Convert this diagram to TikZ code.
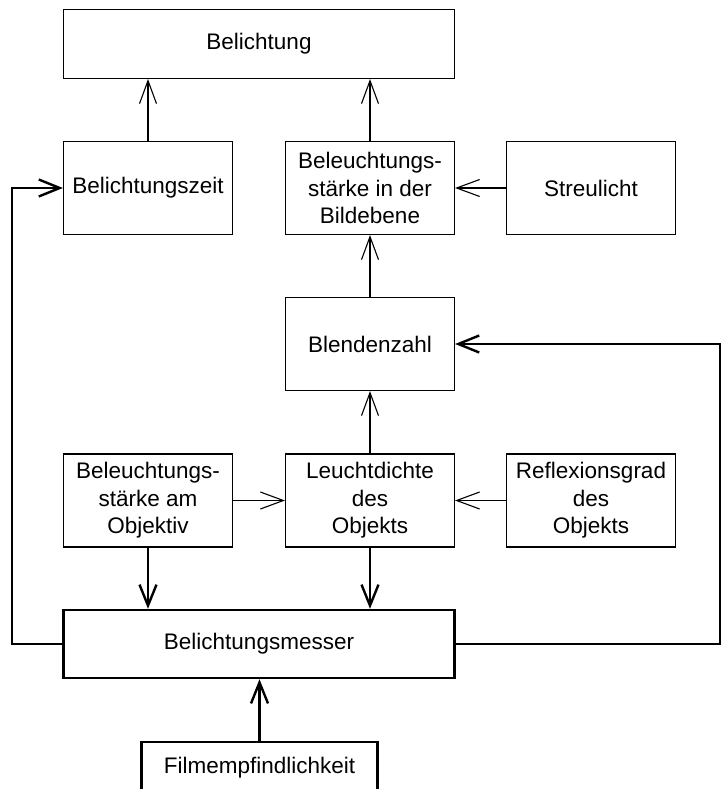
\documentclass[tikz,border=0pt]{standalone}
\usepackage{fontspec}
\setmainfont{Liberation Sans}
\usetikzlibrary{arrows.meta}

\begin{document}
\begin{tikzpicture}[x=1pt,y=-1pt,
    box/.style={draw,line width=1.1pt,minimum width=169pt,minimum height=93pt,inner sep=2pt,align=center,font=\fontsize{22.5}{27.5}\selectfont},
    bigbox/.style={box,minimum width=391pt,minimum height=69pt},
    arr/.style={line width=1.1pt,-{Straight Barb[length=23pt,width=17pt]}},
    thickarr/.style={line width=2.4pt,-{Straight Barb[length=21pt,width=17pt]}}]

\useasboundingbox (0,0) rectangle (721,789);

\node[bigbox] (bel) at (259,44) {Belichtung};

\node[box] (zeit) at (148,188) {Belichtungszeit};
\node[box] (bild) at (370,188) {Beleuchtungs-\\stärke in der\\Bildebene};
\node[box] (streu) at (591,188) {Streulicht};

\node[box] (blende) at (370,344) {Blendenzahl};

\node[box] (objektiv) at (148,500.5) {Beleuchtungs-\\stärke am\\Objektiv};
\node[box] (dichte) at (370,500.5) {Leuchtdichte\\des\\Objekts};
\node[box] (reflex) at (591,500.5) {Reflexionsgrad\\des\\Objekts};

\node[bigbox,line width=2.4pt,minimum height=68pt] (messer) at (259,644) {Belichtungsmesser};
\node[box,line width=2.4pt,minimum width=236pt,minimum height=52pt] (film) at (259.5,768) {Filmempfindlichkeit};

% thin arrows
\draw[arr] (zeit.north) -- (zeit.north |- bel.south);
\draw[arr] (bild.north) -- (bild.north |- bel.south);
\draw[arr] (streu) -- (bild);
\draw[arr] (blende) -- (bild);
\draw[arr] (dichte) -- (blende);
\draw[arr] (objektiv) -- (dichte);
\draw[arr] (reflex) -- (dichte);

% thick arrows
\draw[thickarr] (objektiv.south) -- (objektiv.south |- messer.north);
\draw[thickarr] (dichte.south) -- (dichte.south |- messer.north);
\draw[thickarr] (film.north) -- (film.north |- messer.south);

\coordinate (lft) at (12,644);
\coordinate (rgt) at (720,644);
\draw[thickarr] (messer.west) -- (lft) -- (lft |- zeit.west) -- (zeit.west);
\draw[thickarr] (messer.east) -- (rgt) -- (rgt |- blende.east) -- (blende.east);

\end{tikzpicture}
\end{document}
